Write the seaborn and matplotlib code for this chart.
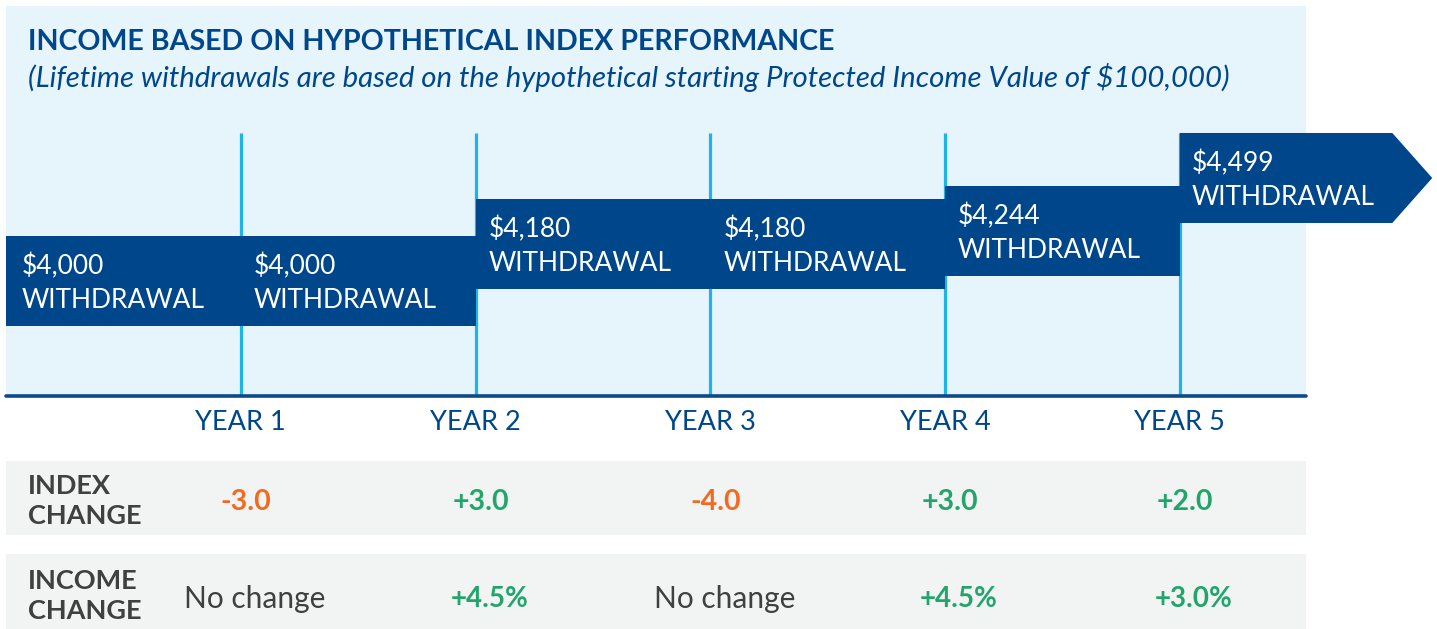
import matplotlib as mpl
mpl.use('Agg')
import matplotlib.pyplot as plt
from matplotlib.patches import Polygon, Rectangle
import seaborn as sns

# data
years = ['YEAR 1', 'YEAR 2', 'YEAR 3', 'YEAR 4', 'YEAR 5']
withdrawals = [4000, 4000, 4180, 4180, 4244, 4499]
index_change = ['-3.0', '+3.0', '-4.0', '+3.0', '+2.0']
income_change = ['No change', '+4.5%', 'No change', '+4.5%', '+3.0%']

title = 'INCOME BASED ON HYPOTHETICAL INDEX PERFORMANCE'
subtitle = '(Lifetime withdrawals are based on the hypothetical starting Protected Income Value of $100,000)'

NAVY = '#00468B'
PANEL = '#E6F4FB'
CYAN = '#1DB5E8'
GRAY_ROW = '#F2F3F3'
LABEL = '#404040'
ORANGE = '#F26A21'
GREEN = '#22A56C'

sns.set_theme(style='white')
plt.rcParams['font.family'] = ['Lato', 'DejaVu Sans']

W, H = 1437, 629
fig = plt.figure(figsize=(W / 100, H / 100), dpi=100)
fig.patch.set_facecolor('white')

# main panel axes (pixel box 6..1306 x 6..396)
ax = fig.add_axes([6 / W, 1 - 396 / H, 1300 / W, 390 / H])
ax.set_facecolor(PANEL)
x_right = (1306 - 7.5) / 234.5
ax.set_xlim(0, x_right)
ax.set_ylim(3225, 5114)
for s in ax.spines.values():
    s.set_visible(False)
ax.set_xticks([])
ax.set_yticks([])

bar_h = 436
# year boundary lines
for k in range(1, len(years) + 1):
    ax.plot([k, k], [3225, withdrawals[-1]], color=CYAN, lw=2.3, zorder=1,
            solid_capstyle='butt')

# step bars
for i, v in enumerate(withdrawals):
    if i < len(withdrawals) - 1:
        ax.bar(i + 0.5, bar_h, width=1.0, bottom=v - bar_h, color=NAVY,
               linewidth=0, zorder=2)
        tx = i + 0.065 if i == 0 else i + 0.055
    else:
        x0, x1, x2 = i, i + 0.905, i + 1.075
        poly = Polygon([[x0, v], [x1, v], [x2, v - bar_h / 2], [x1, v - bar_h],
                        [x0, v - bar_h]], closed=True, color=NAVY, lw=0,
                       zorder=2, clip_on=False)
        ax.add_patch(poly)
        tx = i + 0.05
    ax.text(tx, v - bar_h * 0.34, '${:,}'.format(v), color='white',
            fontsize=19, va='center', ha='left', zorder=3, clip_on=False)
    ax.text(tx, v - bar_h * 0.72, 'WITHDRAWAL', color='white',
            fontsize=19, va='center', ha='left', zorder=3, clip_on=False)

ax.axhline(3225, color='#0B4A8C', lw=2.6, zorder=4, clip_on=False)

ax.text(22 / 1300, 1 - 36 / 390, title, transform=ax.transAxes, color=NAVY,
        fontsize=20.6, fontweight='bold', va='center', ha='left')
ax.text(22 / 1300, 1 - 71 / 390, subtitle, transform=ax.transAxes, color=NAVY,
        fontsize=21.2, style='italic', va='center', ha='left')

# table axes below
tb = fig.add_axes([6 / W, 0, 1300 / W, 229 / H])
tb.set_xlim(0, x_right)
tb.set_ylim(629, 400)
tb.axis('off')

tb.add_patch(Rectangle((0, 461), x_right, 74, color=GRAY_ROW, lw=0))
tb.add_patch(Rectangle((0, 554), x_right, 80, color=GRAY_ROW, lw=0, clip_on=False))

for k, lab in enumerate(years):
    tb.text(k + 1, 423, lab, color=NAVY, fontsize=19.5, ha='center', va='center')

tb.text(22 / 234.5, 501, 'INDEX\nCHANGE', color=LABEL, fontsize=19.5,
        fontweight='bold', ha='left', va='center', linespacing=1.3)
tb.text(22 / 234.5, 596, 'INCOME\nCHANGE', color=LABEL, fontsize=19.5,
        fontweight='bold', ha='left', va='center', linespacing=1.3)

for k, val in enumerate(index_change):
    c = ORANGE if val.startswith('-') else GREEN
    tb.text(k + 1 + 5 / 234.5, 502, val, color=c, fontsize=20.5,
            fontweight='bold', ha='center', va='center')

for k, val in enumerate(income_change):
    if val.startswith('+'):
        tb.text(k + 1 + 14 / 234.5, 599, val, color=GREEN, fontsize=20,
                fontweight='bold', ha='center', va='center')
    else:
        tb.text(k + 1 + 14 / 234.5, 599, val, color=LABEL, fontsize=21.5,
                ha='center', va='center')

fig.savefig('out.png', dpi=100)
